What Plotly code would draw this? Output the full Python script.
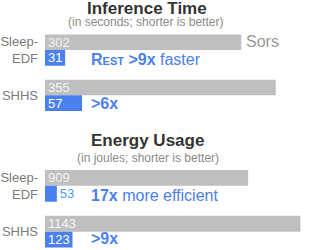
import plotly.graph_objects as go

# ---- data ----
datasets = ["Sleep-EDF", "SHHS"]
tick_labels = ["Sleep-<br>EDF", "SHHS"]
time_sors = [302, 355]
time_rest = [31, 57]
energy_sors = [909, 1143]
energy_rest = [53, 123]

FONT = "Liberation Sans, Arial, Helvetica, sans-serif"
GRAY = "#bfbfbf"
BLUE = "#4a80f0"
W, H = 316, 250

fig = go.Figure()

def add_pair(sors, rest, xa, ya, rest_pos):
    fig.add_trace(go.Bar(
        y=datasets, x=sors, orientation="h", name="Sors",
        marker=dict(color=GRAY, line=dict(width=0)),
        text=[str(v) for v in sors], textposition="inside", textangle=0,
        insidetextanchor="start", constraintext="none",
        insidetextfont=dict(family=FONT, size=13, color="#f4f4f4"),
        xaxis=xa, yaxis=ya, showlegend=False, hoverinfo="skip"))
    fig.add_trace(go.Bar(
        y=datasets, x=rest, orientation="h", name="Rest",
        marker=dict(color=BLUE, line=dict(width=0)),
        text=[str(v) for v in rest], textposition=rest_pos, textangle=0,
        insidetextanchor="start", constraintext="none",
        insidetextfont=dict(family=FONT, size=13, color="#ffffff"),
        outsidetextfont=dict(family=FONT, size=13, color="#4fa0ff"),
        xaxis=xa, yaxis=ya, showlegend=False, hoverinfo="skip", cliponaxis=False))

add_pair(time_sors, time_rest, "x", "y", ["inside", "inside"])
add_pair(energy_sors, energy_rest, "x2", "y2", ["outside", "inside"])

x0 = 45 / W
xcommon = dict(showgrid=False, zeroline=False, showticklabels=False,
               showline=False, ticks="", fixedrange=True)
ycommon = dict(showgrid=False, zeroline=False, showline=False, ticks="",
               tickmode="array", tickvals=datasets, ticktext=tick_labels,
               tickfont=dict(family=FONT, size=13, color="#7a7a7a"),
               ticklabelstandoff=6, automargin=False, fixedrange=True)

fig.update_layout(
    width=W, height=H, margin=dict(l=0, r=0, t=0, b=0),
    paper_bgcolor="white", plot_bgcolor="white",
    barmode="group", bargap=0.31, bargroupgap=0,
    font=dict(family=FONT),
    xaxis=dict(domain=[x0, 1], range=[0, (W - 45) / 0.65], anchor="y", **xcommon),
    yaxis=dict(domain=[1 - 118 / H, 1 - 27.4 / H], range=[1.5, -0.5], anchor="x", **ycommon),
    xaxis2=dict(domain=[x0, 1], range=[0, (W - 45) / 0.2235], anchor="y2", **xcommon),
    yaxis2=dict(domain=[1 - 248.7 / H, 1 - 162.85 / H], range=[1.37, -0.5], anchor="x2", **ycommon),
)

def ann(text, x, y, size, color, xanchor="left", bold=False):
    fig.add_annotation(text=text, x=x / W, y=1 - y / H, xref="paper", yref="paper",
                       xanchor=xanchor, yanchor="middle", showarrow=False, borderpad=0,
                       font=dict(family=FONT, size=size, color=color,
                                 weight="bold" if bold else "normal"))

ann("Inference Time", 147.2, 8.3, 17, "#333333", "center", True)
ann("(in seconds; shorter is better)", 145.7, 22.0, 12, "#8a8a8a", "center")
ann("Sors", 245, 41.5, 16, "#999999")
ann('<b><span style="font-variant:small-caps">Rest</span> &gt;9x</b> faster', 90, 59, 16, BLUE)
ann("<b>&gt;6x</b>", 90, 104, 16, BLUE)

ann("Energy Usage", 147.5, 140, 17, "#333333", "center", True)
ann("(in joules; shorter is better)", 147.8, 157.5, 12, "#8a8a8a", "center")
ann("<b>17x</b> more efficient", 90, 195, 16, BLUE)
ann("<b>&gt;9x</b>", 90, 238, 16, BLUE)

fig.write_html(
    "out.html",
    config={"displayModeBar": False, "staticPlot": True},
    post_script="document.body.style.margin='0';document.body.style.overflow='hidden';",
)
